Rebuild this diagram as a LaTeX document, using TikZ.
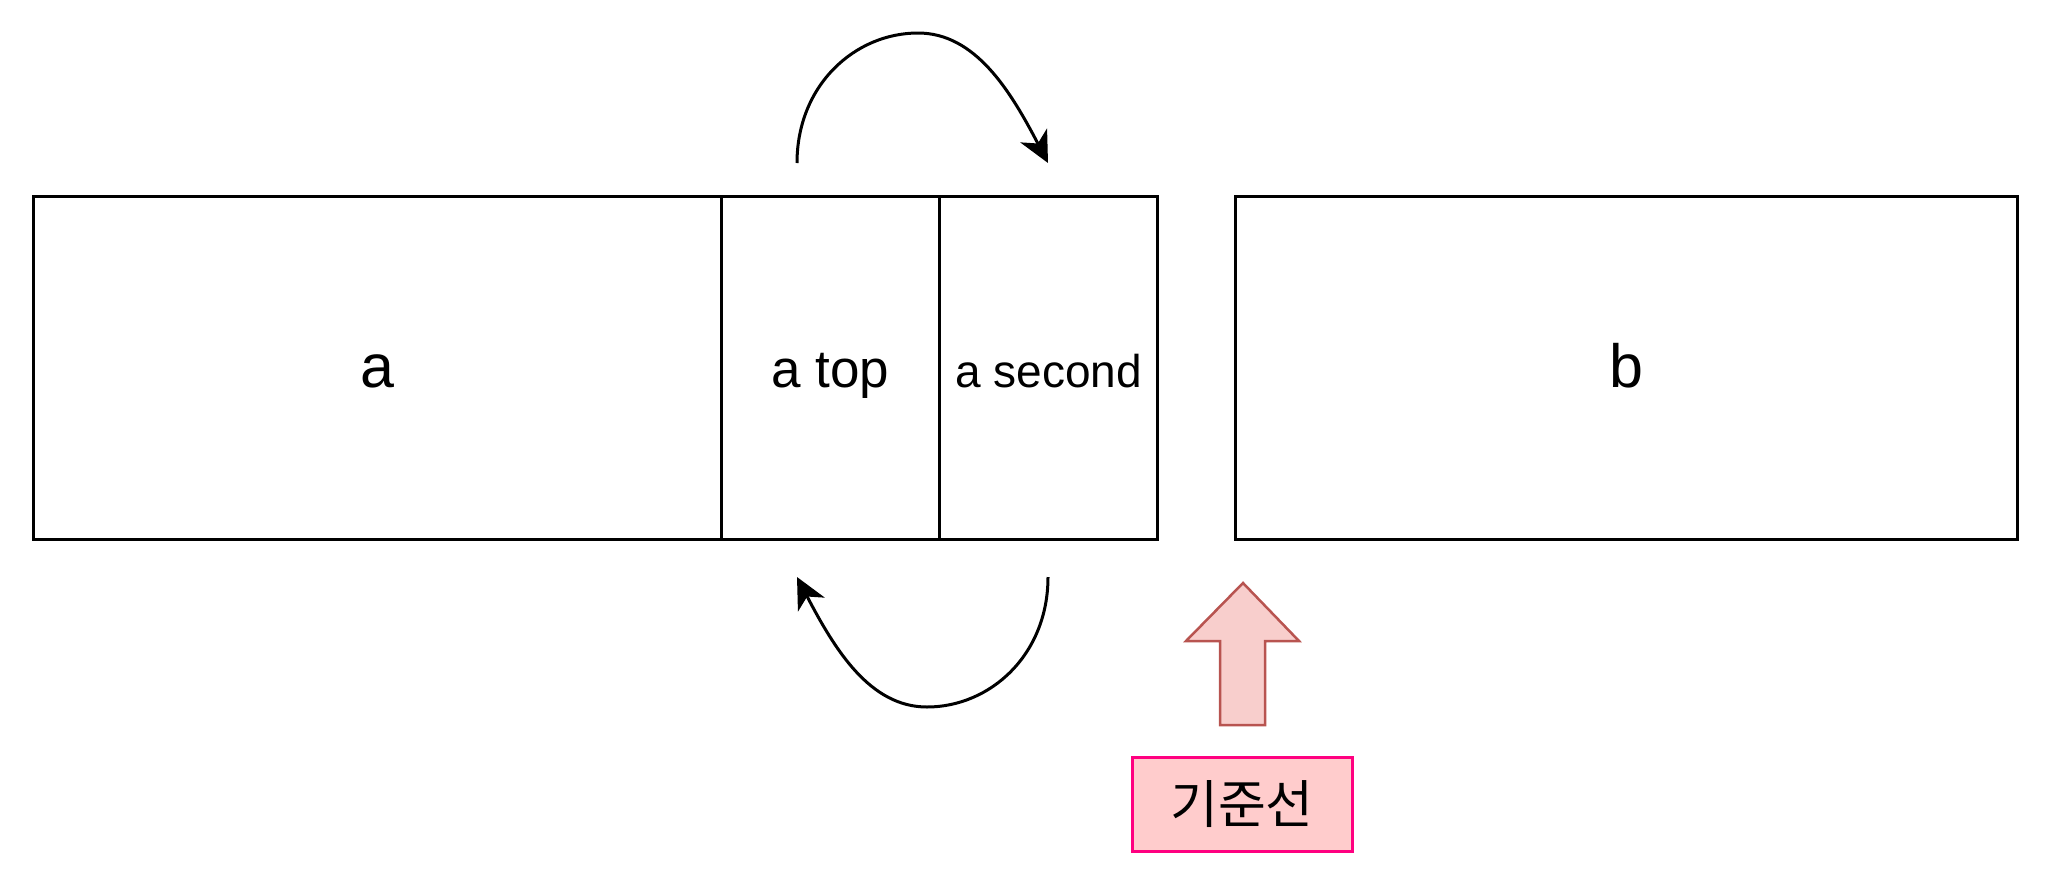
\documentclass[tikz,border=0pt]{standalone}
\usepackage{fontspec}
\setmainfont{Liberation Sans}
\newfontfamily\krfont{Noto Sans CJK KR}
\usetikzlibrary{arrows.meta}
\definecolor{arrfill}{HTML}{F8CECC}
\definecolor{arrdraw}{HTML}{B85450}
\definecolor{boxfill}{HTML}{FFCCCC}
\definecolor{boxdraw}{HTML}{FF0080}
\begin{document}
\begin{tikzpicture}[x=1pt,y=-1pt,
  cell/.style={draw=black,line width=3pt,minimum height=343pt,inner sep=0pt,anchor=north west,text height=38pt,text depth=0pt},
  bigtxt/.style={font=\fontsize{61}{70}\selectfont},
  midtxt/.style={font=\fontsize{53}{62}\selectfont},
  smalltxt/.style={font=\fontsize{46}{55}\selectfont},
  curvearrow/.style={line width=3pt,-{Stealth[length=31pt,width=30pt,inset=9pt]}},
  refbox/.style={draw=boxdraw,fill=boxfill,line width=3pt,minimum width=220pt,minimum height=94pt,inner sep=0pt,font=\krfont\fontsize{52}{60}\selectfont}]
\useasboundingbox (0,0) rectangle (2048,884);
% cells
\node[cell,minimum width=688pt,bigtxt] (a) at (32,195) {a};
\node[cell,minimum width=218pt,midtxt] (atop) at (720,195) {a top};
\node[cell,minimum width=218pt,smalltxt] (asec) at (938,195) {a second};
\node[cell,minimum width=782pt,bigtxt] (b) at (1234,195) {b};
% curved arrows
\coordinate (t0) at (797,163);
\coordinate (t1) at (918,33);
\coordinate (t2) at (1048,163);
\draw[curvearrow] (t0) .. controls (797,85) and (855,33) .. (t1)
  .. controls (975,33) and (1010,90) .. (t2);
\coordinate (b0) at (1048,577);
\coordinate (b1) at (927,707);
\coordinate (b2) at (797,577);
\draw[curvearrow] (b0) .. controls (1048,655) and (990,707) .. (b1)
  .. controls (870,707) and (835,650) .. (b2);
% block arrow
\draw[draw=arrdraw,fill=arrfill,line width=2.5pt,line join=miter]
  (1243,583) -- (1299,641) -- (1265,641) -- (1265,725) -- (1220,725)
  -- (1220,641) -- (1186,641) -- cycle;
% reference line label
\node[refbox] (ref) at (1242,804) {기준선};
\end{tikzpicture}
\end{document}
